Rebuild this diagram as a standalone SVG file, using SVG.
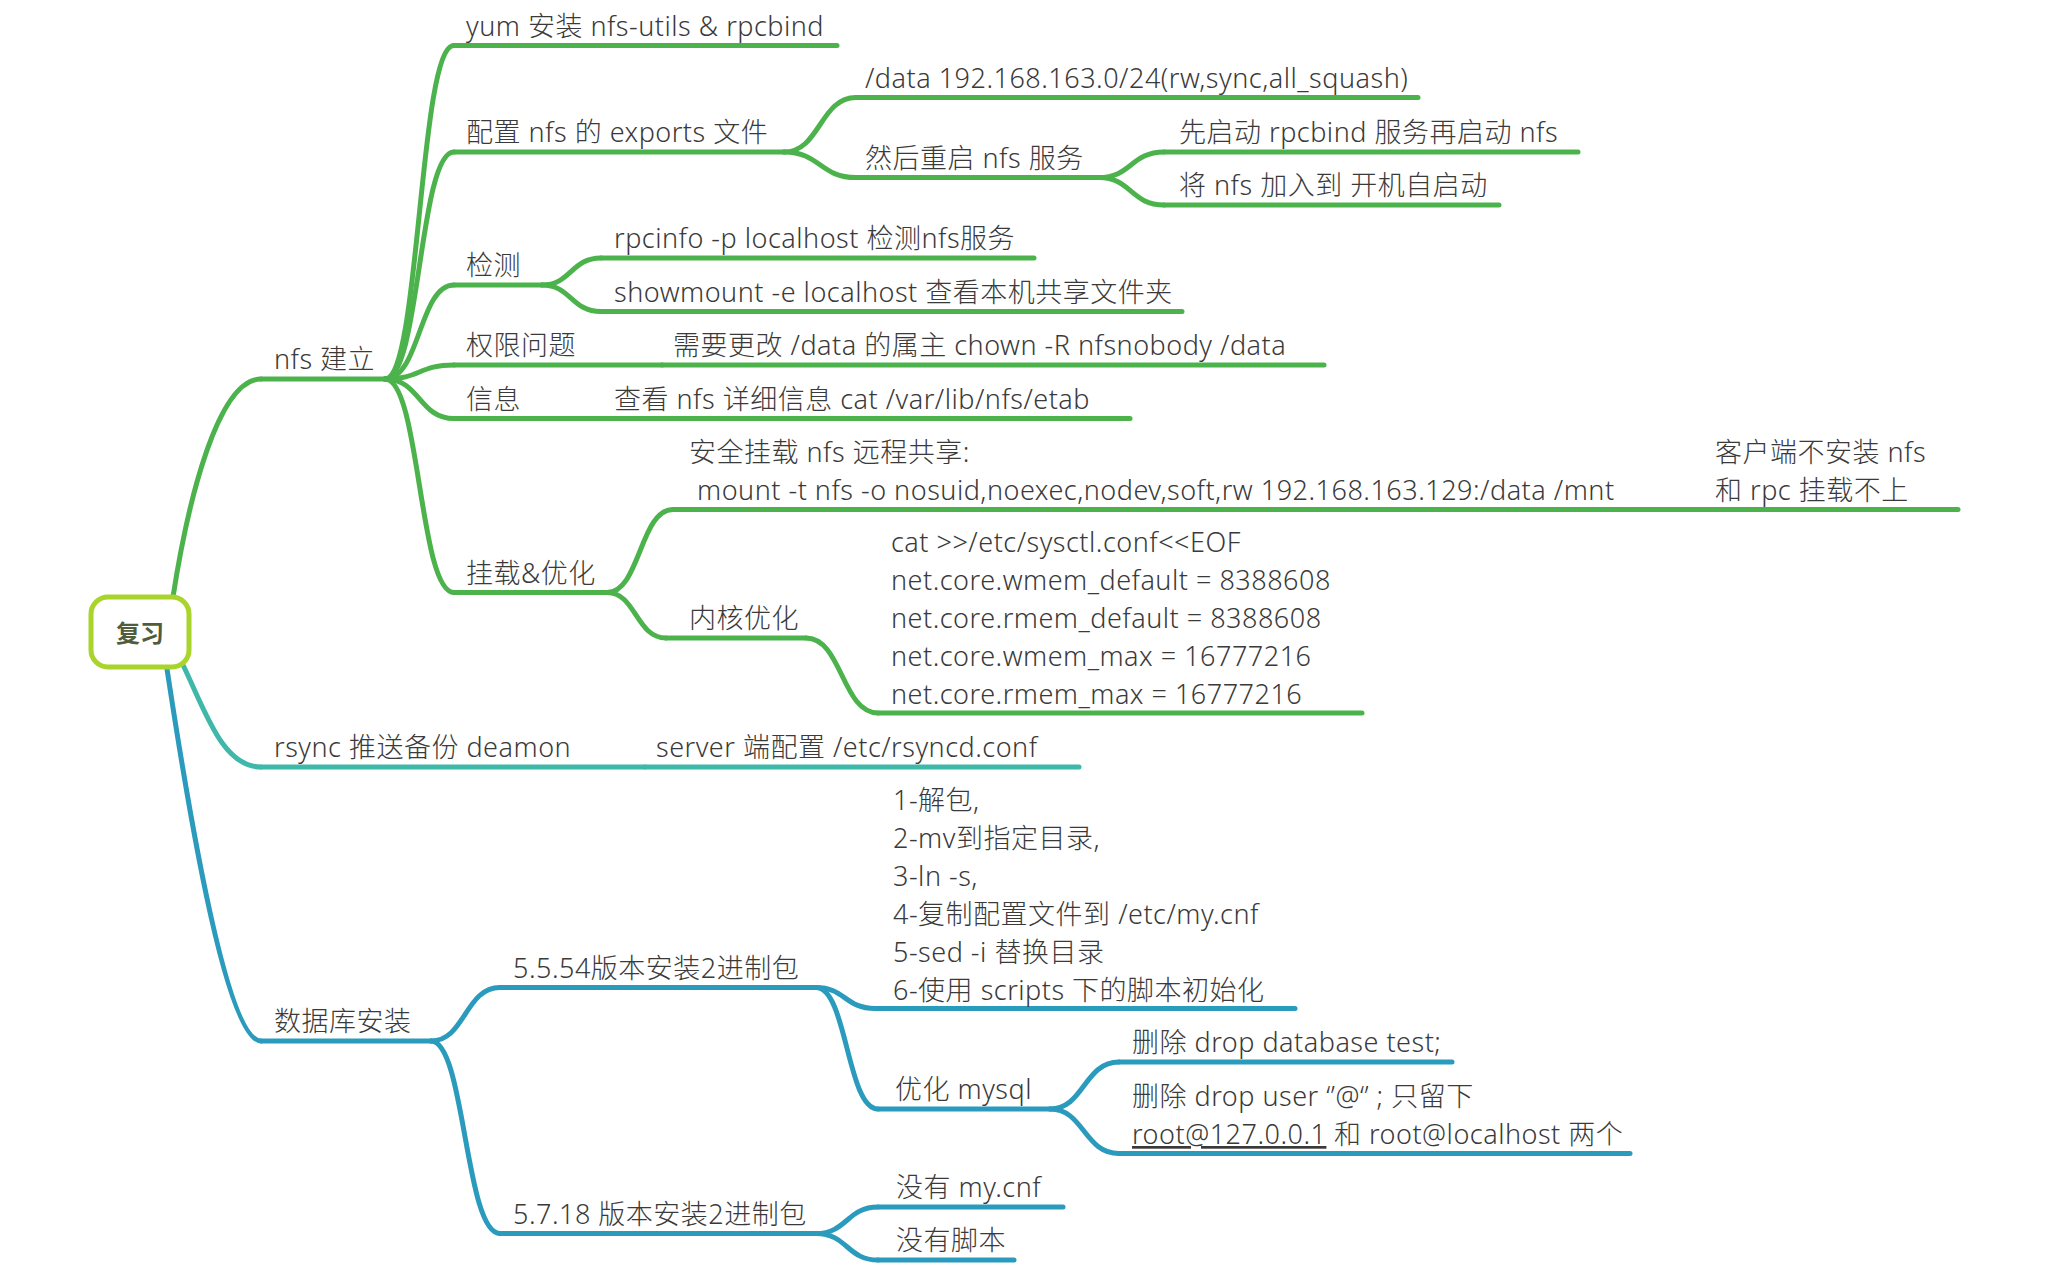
<svg xmlns="http://www.w3.org/2000/svg" width="2048" height="1266" viewBox="0 0 2048 1266">
<style>
text{font-family:"Noto Sans","Noto Sans CJK SC",sans-serif;font-size:27px;font-weight:300;letter-spacing:0.5px;fill:#3a3a3a}
.root{font-size:24px;font-weight:700;letter-spacing:0;fill:#4f5d3c}
.g{stroke:#4cb34c;fill:none;stroke-width:5;stroke-linecap:round}
.t{stroke:#3fb8aa;fill:none;stroke-width:5;stroke-linecap:round}
.b{stroke:#2b9bbd;fill:none;stroke-width:5;stroke-linecap:round}
</style>
<rect width="2048" height="1266" fill="#ffffff"/>
<g id="connectors">
<path class="g" d="M173 597 C188 500 218 379 261 379"/>
<path class="t" d="M183 665 C205 710 222 767 261 767"/>
<path class="b" d="M167 669 C178 740 222 1041 261 1041"/>
<path class="g" d="M385 379 C420 379 419 45.6 454 45.6"/>
<path class="g" d="M385 379 C420 379 419 152 454 152"/>
<path class="g" d="M385 379 C420 379 419 285 454 285"/>
<path class="g" d="M385 379 C420 379 419 365 454 365"/>
<path class="g" d="M385 379 C420 379 419 418.6 454 418.6"/>
<path class="g" d="M385 379 C420 379 419 592.5 454 592.5"/>
<path class="g" d="M784 152 C820 152 820 97.5 856 97.5"/>
<path class="g" d="M784 152 C820 152 820 177.6 856 177.6"/>
<path class="g" d="M1099 177.6 C1131 177.6 1131 152 1164 152"/>
<path class="g" d="M1099 177.6 C1131 177.6 1131 205 1164 205"/>
<path class="g" d="M542 285 C571 285 571 258 601 258"/>
<path class="g" d="M542 285 C571 285 571 311.5 601 311.5"/>
<path class="g" d="M607 592.5 C640 592.5 640 509.5 673 509.5"/>
<path class="g" d="M607 592.5 C636 592.5 636 638 666 638"/>
<path class="g" d="M806 638 C842 638 842 713 878 713"/>
<path class="b" d="M431 1041 C465 1041 465 987.5 500 987.5"/>
<path class="b" d="M431 1041 C465 1041 465 1233.5 500 1233.5"/>
<path class="b" d="M816 987.5 C845 987.5 845 1008.5 875 1008.5"/>
<path class="b" d="M816 987.5 C847 987.5 847 1109 878 1109"/>
<path class="b" d="M1050 1109 C1084 1109 1084 1062 1119 1062"/>
<path class="b" d="M1050 1109 C1084 1109 1084 1153.5 1119 1153.5"/>
<path class="b" d="M816 1233.5 C847 1233.5 847 1207 878 1207"/>
<path class="b" d="M816 1233.5 C847 1233.5 847 1260 878 1260"/>
</g>
<g id="root">
<rect x="91" y="597" width="98" height="70" rx="17" fill="#ffffff" stroke="#a9d42c" stroke-width="5"/>
<text class="root" x="140" y="642" text-anchor="middle">复习</text>
</g>
<g id="nfs"><path class="g" d="M261 379 H385"/><text x="274" y="369">nfs 建立</text></g>
<g id="rsync"><path class="t" d="M261 767 H645"/><text x="274" y="757">rsync 推送备份 deamon</text></g>
<g id="rsync-server"><path class="t" d="M645 767 H1079"/><text x="656" y="757">server 端配置 /etc/rsyncd.conf</text></g>
<g id="db"><path class="b" d="M261 1041 H431"/><text x="274" y="1031">数据库安装</text></g>
<g id="yum"><path class="g" d="M454 45.6 H837"/><text x="466" y="36">yum 安装 nfs-utils &amp; rpcbind</text></g>
<g id="exports"><path class="g" d="M454 152 H784"/><text x="466" y="142">配置 nfs 的 exports 文件</text></g>
<g id="check"><path class="g" d="M454 285 H542"/><text x="466" y="275">检测</text></g>
<g id="perm"><path class="g" d="M454 365 H662"/><text x="466" y="355">权限问题</text></g>
<g id="perm-fix"><path class="g" d="M662 365 H1324"/><text x="673" y="355">需要更改 /data 的属主 chown -R nfsnobody /data</text></g>
<g id="info"><path class="g" d="M454 418.6 H604"/><text x="466" y="408.6">信息</text></g>
<g id="info-etab"><path class="g" d="M604 418.6 H1130"/><text x="614" y="408.6">查看 nfs 详细信息 cat /var/lib/nfs/etab</text></g>
<g id="mount-opt"><path class="g" d="M454 592.5 H607"/><text x="466" y="582.5">挂载&amp;优化</text></g>
<g id="data-line"><path class="g" d="M856 97.5 H1418"/><text x="865" y="87.5">/data 192.168.163.0/24(rw,sync,all_squash)</text></g>
<g id="restart"><path class="g" d="M856 177.6 H1099"/><text x="865" y="167.6">然后重启 nfs 服务</text></g>
<g id="rpcbind-first"><path class="g" d="M1164 152 H1578"/><text x="1179" y="142">先启动 rpcbind 服务再启动 nfs</text></g>
<g id="autostart"><path class="g" d="M1164 205 H1499"/><text x="1179" y="195">将 nfs 加入到 开机自启动</text></g>
<g id="rpcinfo"><path class="g" d="M601 258 H1034"/><text x="614" y="248">rpcinfo -p localhost 检测nfs服务</text></g>
<g id="showmount"><path class="g" d="M601 311.5 H1182"/><text x="614" y="301.5">showmount -e localhost 查看本机共享文件夹</text></g>
<g id="mount"><path class="g" d="M673 509.5 H1628"/><text x="689" y="461.6">安全挂载 nfs 远程共享:</text><text x="697" y="499.5">mount -t nfs -o nosuid,noexec,nodev,soft,rw 192.168.163.129:/data /mnt</text></g>
<g id="client-note"><path class="g" d="M1628 509.5 H1958"/><text x="1715" y="461.6">客户端不安装 nfs</text><text x="1715" y="499.5">和 rpc 挂载不上</text></g>
<g id="kernel"><path class="g" d="M666 638 H806"/><text x="689" y="628">内核优化</text></g>
<g id="sysctl"><path class="g" d="M878 713 H1362"/>
<text x="891" y="552">cat &gt;&gt;/etc/sysctl.conf&lt;&lt;EOF</text>
<text x="891" y="590">net.core.wmem_default = 8388608</text>
<text x="891" y="628">net.core.rmem_default = 8388608</text>
<text x="891" y="666">net.core.wmem_max = 16777216</text>
<text x="891" y="704">net.core.rmem_max = 16777216</text></g>
<g id="v5554"><path class="b" d="M500 987.5 H816"/><text x="513" y="977.5">5.5.54版本安装2进制包</text></g>
<g id="v5718"><path class="b" d="M500 1233.5 H816"/><text x="513" y="1223.5">5.7.18 版本安装2进制包</text></g>
<g id="steps"><path class="b" d="M875 1008.5 H1295"/>
<text x="893" y="810">1-解包,</text>
<text x="893" y="848">2-mv到指定目录,</text>
<text x="893" y="886">3-ln -s,</text>
<text x="893" y="924">4-复制配置文件到 /etc/my.cnf</text>
<text x="893" y="961.6">5-sed -i 替换目录</text>
<text x="893" y="999.5">6-使用 scripts 下的脚本初始化</text></g>
<g id="opt-mysql"><path class="b" d="M878 1109 H1050"/><text x="895" y="1099">优化 mysql</text></g>
<g id="drop-db"><path class="b" d="M1119 1062 H1452"/><text x="1132" y="1052">删除 drop database test;</text></g>
<g id="drop-user"><path class="b" d="M1119 1153.5 H1630"/><text x="1132" y="1106">删除 drop user ‘’@‘’ ; 只留下</text><text x="1132" y="1144"><tspan text-decoration="underline">root@127.0.0.1</tspan> 和 root@localhost 两个</text></g>
<g id="no-cnf"><path class="b" d="M878 1207 H1063"/><text x="896" y="1197">没有 my.cnf</text></g>
<g id="no-script"><path class="b" d="M878 1260 H1014"/><text x="896" y="1250">没有脚本</text></g>
</svg>
